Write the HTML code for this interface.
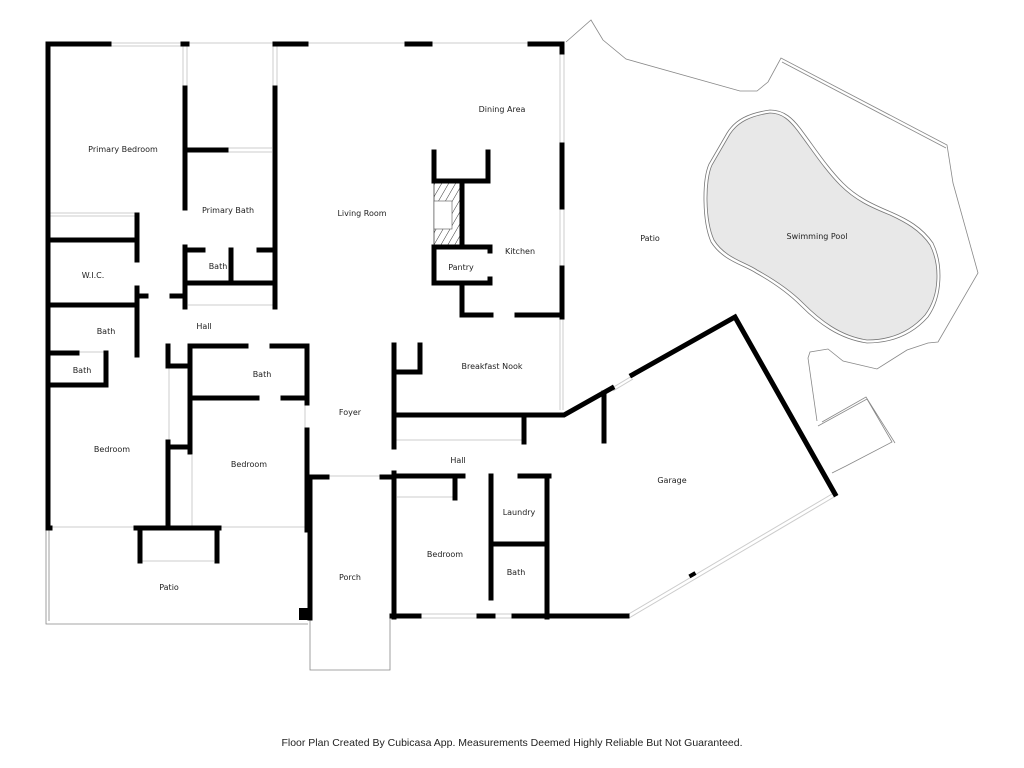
<!DOCTYPE html>
<html><head><meta charset="utf-8"><style>
html,body{margin:0;padding:0;background:#fff;}
svg{display:block}
text{font-family:"DejaVu Sans","Liberation Sans",sans-serif;font-size:8px;fill:#222;text-anchor:middle}
.w{stroke:#000;stroke-width:5;fill:none;stroke-linecap:square}
.n{stroke:#888;stroke-width:0.8;fill:none}
.win{stroke:#ccc;stroke-width:1;fill:none}
</style></head><body>
<svg width="1024" height="768" viewBox="0 0 1024 768" xmlns="http://www.w3.org/2000/svg">
<defs><pattern id="h" width="6" height="6" patternUnits="userSpaceOnUse" patternTransform="rotate(30)"><line x1="0" y1="0" x2="0" y2="6" stroke="#000" stroke-width="0.8"/></pattern></defs>
<path class="n" d="M566 42 L591 20 L603 40 L626 59 L740 91 L757 91 L768 82 L781 58 L947 145 L953 183 L978 273 L938 342 L928 343 L907 350 L877 369 L843 361 L828 349 L810 352 L808 358 L817 421"/>
<path class="n" d="M782 62 L946 148"/>
<path class="n" d="M818 426 L867 399 L892 442 L846 466 L832 473 M822 422 L866 397 L895 443"/>
<path d="M770 113 C750 116 738 122 730 134 L712 165 C705 180 705 220 714 240 C725 258 745 262 757 270 C775 280 790 290 803 303 C820 320 840 336 867 340 C890 340 910 332 925 315 C940 295 940 265 930 245 C920 230 905 222 890 215 C870 207 855 200 840 185 C825 170 812 150 800 134 C790 120 782 113 770 113 Z" fill="#e8e8e8" stroke="#777" stroke-width="0.8"/>
<path d="M770 110 C748 113 735 120 727 133 L709 164 C702 180 702 221 711 242 C723 261 744 265 756 273 C774 283 788 293 801 306 C818 323 839 339 867 343 C891 343 912 335 928 317 C943 296 943 264 933 243 C922 227 907 219 891 212 C872 204 857 197 843 183 C828 168 815 148 803 132 C793 118 784 110 770 110 Z" fill="none" stroke="#777" stroke-width="0.8"/>
<path class="win" d="M110 43 H182 M110 46 H182 M188 43 H275 M308 43 H405 M432 43 H547 M560 52 V145 M564 52 V145 M560 207 V268 M564 207 V268 M560 317 V410 M563 317 V410 M183 46 V88 M187 46 V88 M273 46 V88 M277 46 V88 M228 148 H272 M228 152 H272 M50 213 H136 M50 216 H136 M78 352 H107 M169 368 V440 M192 455 V526 M305 404 V428 M50 527 H306 M142 561 H214 M327 476 H382 M420 614 H478 M420 618 H478 M494 614 H514 M494 618 H514 M627 615 L832 494 M629 618 L834 497 M612 388 L632 376 M613 391 L633 379 M397 497 H455 M188 305 H275 M396 440 H524"/>
<path class="n" d="M310 477 V670 H390 V617"/>
<path class="n" d="M46 529 V624 H308 M49 529 V621"/>
<rect x="299" y="608" width="10" height="12" fill="#000"/>
<path class="w" d="M48 44 H109 M48 44 V528 M183 44 H187 M185 88 V208 M185 247 V307 M185 150 H226 M275 44 H306 M275 88 V307 M185 250 H203 M259 250 H275 M231 250 V283 M185 283 H275 M185 306 V307 M275 306 V307"/>
<path class="w" d="M48 240 H137 M137 215 V260 M137 288 V355 M48 305 H137 M137 296 H146 M172 296 H185 M48 353 H77 M106 353 V385 M48 385 H106"/>
<path class="w" d="M168 346 V366 M168 366 H190 M190 346 V452 M191 346 H246 M272 346 H307 M307 346 V403 M307 430 V528 M191 398 H257 M283 398 H307 M168 442 V528 M168 447 H190 M48 528 H50 M136 528 H219 M140 528 V561 M217 528 V561 M307 528 V530 M310 477 V618 M310 477 H327 M382 477 H394"/>
<path class="w" d="M407 44 H430 M530 44 H562 M562 44 V52 M562 145 V207 M562 268 V317"/>
<path class="w" d="M434 152 V181 M488 152 V181 M434 181 H488 M462 181 V247 M434 247 H490 M434 247 V283 M434 283 H490 M490 247 V251 M490 279 V283 M462 283 V315 M462 315 H491 M517 315 H562"/>
<path class="w" d="M394 345 V447 M420 345 V372 M394 372 H420 M394 415 H564 L612 388 M524 415 V442 M604 393 V441 M632 375 L735 317 L835 494 M394 473 V617 M394 476 H463 M455 476 V498 M491 476 V598 M520 476 H549 M547 476 V617 M491 544 H547 M392 616 H419 M479 616 H493 M514 616 H627"/>
<rect x="434" y="181" width="27" height="65" fill="url(#h)" stroke="#000" stroke-width="0.6"/>
<rect x="434" y="201" width="18" height="28" fill="#fff" stroke="#555" stroke-width="0.6"/>
<rect x="689" y="573" width="7" height="4" fill="#000" transform="rotate(-30 692 575)"/>
<text x="123" y="152">Primary Bedroom</text>
<text x="228" y="213">Primary Bath</text>
<text x="218" y="269">Bath</text>
<text x="93" y="278">W.I.C.</text>
<text x="106" y="334">Bath</text>
<text x="82" y="373">Bath</text>
<text x="204" y="329">Hall</text>
<text x="262" y="377">Bath</text>
<text x="112" y="452">Bedroom</text>
<text x="249" y="467">Bedroom</text>
<text x="169" y="590">Patio</text>
<text x="362" y="216">Living Room</text>
<text x="502" y="112">Dining Area</text>
<text x="520" y="254">Kitchen</text>
<text x="461" y="270">Pantry</text>
<text x="492" y="369">Breakfast Nook</text>
<text x="350" y="415">Foyer</text>
<text x="458" y="463">Hall</text>
<text x="519" y="515">Laundry</text>
<text x="445" y="557">Bedroom</text>
<text x="516" y="575">Bath</text>
<text x="350" y="580">Porch</text>
<text x="650" y="241">Patio</text>
<text x="817" y="239">Swimming Pool</text>
<text x="672" y="483">Garage</text>
<text x="512" y="746" style="font-family:'Liberation Sans',sans-serif;font-size:10.5px">Floor Plan Created By Cubicasa App. Measurements Deemed Highly Reliable But Not Guaranteed.</text>
</svg>
</body></html>
